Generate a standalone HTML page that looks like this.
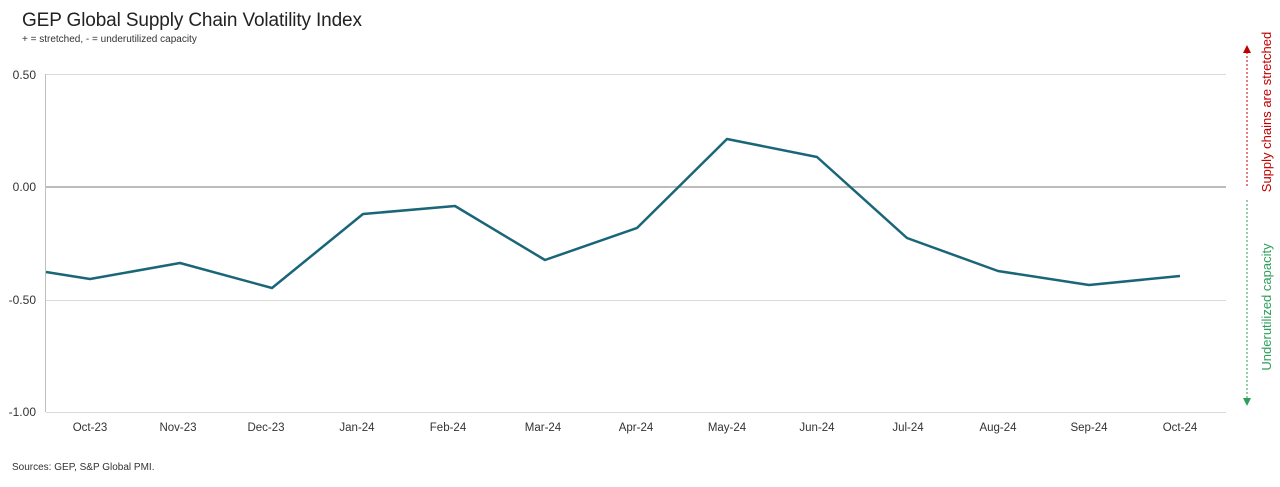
<!DOCTYPE html>
<html><head><meta charset="utf-8"><style>
html,body{margin:0;padding:0;background:#fff;}
svg{display:block;font-family:"Liberation Sans",sans-serif;}
</style></head><body>
<svg width="1280" height="487" viewBox="0 0 1280 487" xmlns="http://www.w3.org/2000/svg">
<text x="22" y="26" font-size="19" fill="#222" textLength="340" font-family="Liberation Sans, sans-serif">GEP Global Supply Chain Volatility Index</text>
<text x="22" y="42" font-size="10" fill="#333">+ = stretched, - = underutilized capacity</text>
<g stroke="#d9d9d9" stroke-width="1">
<line x1="46" y1="74.5" x2="1226" y2="74.5"/>
<line x1="46" y1="300.5" x2="1226" y2="300.5"/>
<line x1="46" y1="412.5" x2="1226" y2="412.5"/>
</g>
<line x1="46" y1="187" x2="1226" y2="187" stroke="#a6a6a6" stroke-width="1.5"/>
<line x1="45.5" y1="74" x2="45.5" y2="412" stroke="#bfbfbf" stroke-width="1"/>
<g font-size="12" fill="#333" text-anchor="end">
<text x="36" y="79">0.50</text>
<text x="36" y="191">0.00</text>
<text x="36" y="304">-0.50</text>
<text x="36" y="416">-1.00</text>
</g>
<g font-size="11.5" fill="#333" text-anchor="middle">
<text x="90" y="431">Oct-23</text><text x="178" y="431">Nov-23</text><text x="266" y="431">Dec-23</text>
<text x="357" y="431">Jan-24</text><text x="448" y="431">Feb-24</text><text x="543" y="431">Mar-24</text>
<text x="636" y="431">Apr-24</text><text x="727" y="431">May-24</text><text x="817" y="431">Jun-24</text>
<text x="908" y="431">Jul-24</text><text x="998" y="431">Aug-24</text><text x="1089" y="431">Sep-24</text>
<text x="1180" y="431">Oct-24</text>
</g>
<polyline fill="none" stroke="#1a6678" stroke-width="2.5" stroke-linejoin="round"
points="46,272 90,279 180,263 272,288 363,214 455,206 545,260 637,228 727,139 817,157 907,238 998,271 1089,285 1180,276"/>
<line x1="1247" y1="52" x2="1247" y2="188" stroke="#c00000" stroke-width="1" stroke-dasharray="2,2"/>
<polygon points="1243,53 1251,53 1247,45" fill="#c00000"/>
<line x1="1247" y1="200" x2="1247" y2="398" stroke="#2e9e5b" stroke-width="1" stroke-dasharray="2,2"/>
<polygon points="1243,398 1251,398 1247,406" fill="#2e9e5b"/>
<text transform="translate(1271,112) rotate(-90)" font-size="13" fill="#c00000" text-anchor="middle">Supply chains are stretched</text>
<text transform="translate(1271,307) rotate(-90)" font-size="13" fill="#2e9e5b" text-anchor="middle">Underutilized capacity</text>
<text x="12" y="470" font-size="10" fill="#333">Sources: GEP, S&amp;P Global PMI.</text>
</svg>
</body></html>
